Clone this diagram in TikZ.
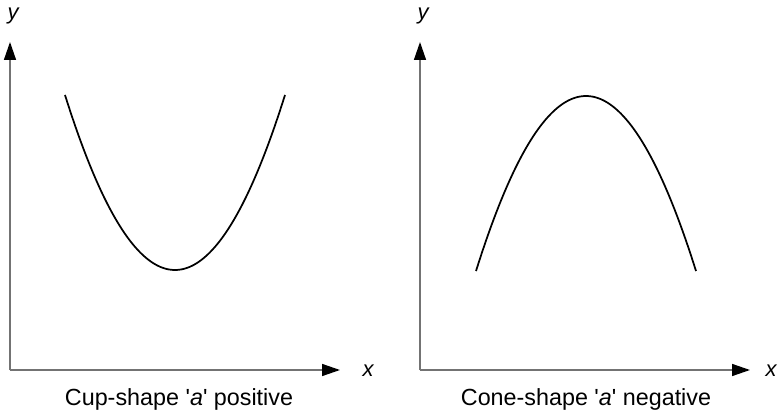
\documentclass[tikz,border=0pt]{standalone}
\usepackage{fontspec}
\setmainfont{Liberation Sans}
\usetikzlibrary{arrows.meta}
\begin{document}
\begin{tikzpicture}[x=0.75pt,y=-0.75pt,
  axis/.style={draw=black!55,line width=1.1pt,-{Triangle[length=13.5pt,width=9pt,fill=black,color=black]}},
  curve/.style={draw=black,line width=1.3pt},
  lbl/.style={font=\fontsize{16.5}{18}\selectfont\itshape,inner sep=0pt},
  captext/.style={font=\fontsize{17.5}{20}\selectfont,inner sep=0pt}]
\useasboundingbox (0,0) rectangle (778,417);
% left
\coordinate (lo) at (10,370);
\coordinate (ly) at (10,42);
\coordinate (lx) at (340,370);
\draw[axis] (lo) -- (ly);
\draw[axis] (lo) -- (lx);
\node[lbl] (lyl) at (13,16) {y};
\node[lbl] (lxl) at (368,371) {x};
\draw[curve] plot[domain=65:285,samples=80,smooth] (\x,{270-0.014463*(\x-175)*(\x-175)});
\node[captext] (lc) at (179,399) {Cup-shape \textquotesingle\textit{a}\textquotesingle{} positive};
% right
\coordinate (ro) at (420,370);
\coordinate (ry) at (420,42);
\coordinate (rx) at (750,370);
\draw[axis] (ro) -- (ry);
\draw[axis] (ro) -- (rx);
\node[lbl] (ryl) at (423,16) {y};
\node[lbl] (rxl) at (771,371) {x};
\draw[curve] plot[domain=476:696,samples=80,smooth] (\x,{96+0.014463*(\x-586)*(\x-586)});
\node[captext] (rc) at (586,399) {Cone-shape \textquotesingle\textit{a}\textquotesingle{} negative};
\end{tikzpicture}
\end{document}
